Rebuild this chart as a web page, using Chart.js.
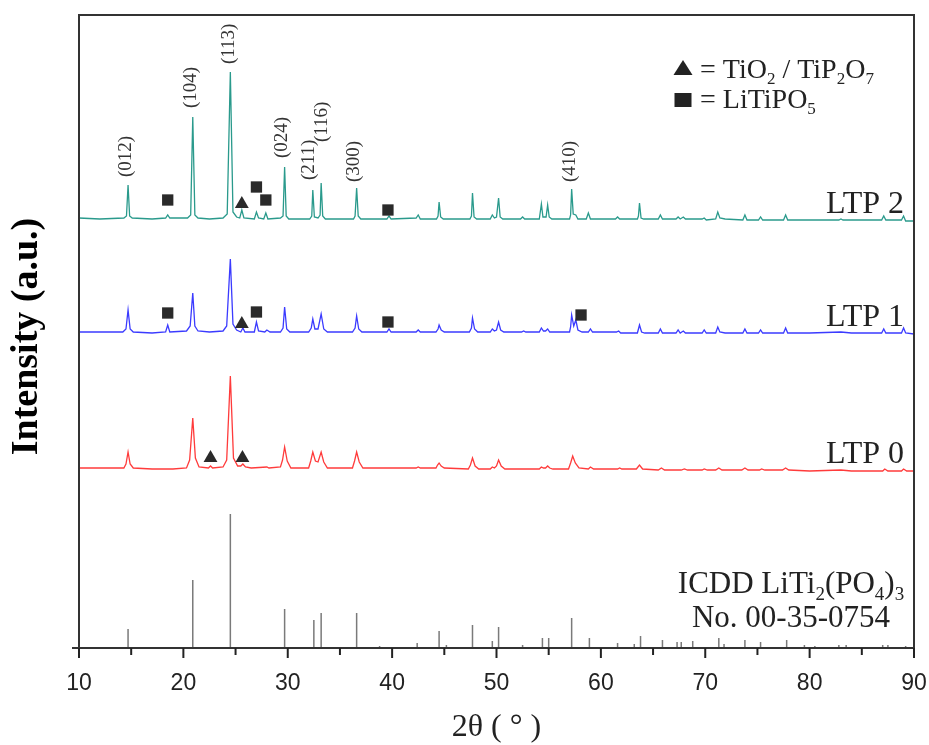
<!DOCTYPE html>
<html>
<head>
<meta charset="utf-8">
<script src="https://cdn.jsdelivr.net/npm/chart.js@4.4.1/dist/chart.umd.min.js"></script>
<style>
html,body{margin:0;padding:0;background:#fff;}
#wrap{width:929px;height:745px;position:relative;}
</style>
</head>
<body>
<div id="wrap"><canvas id="c" width="929" height="745"></canvas></div>
<script>
// ---------- DATA ----------
const xTicks = [10, 20, 30, 40, 50, 60, 70, 80, 90];

// LTP 2 trace (2θ, intensity a.u., stacked)
const ltp2 = [[10,430],[12,429],[14.3,430],[14.55,432],[14.7,463],[14.85,432],[15.1,430],[17,429],[18.3,430],[18.5,433],[18.7,430],[20.4,430],[20.7,433],[20.9,531],[21.1,433],[21.4,430],[22.5,429],[23.8,430],[24.2,434],[24.5,576],[24.75,436],[25.1,431],[25.4,430],[25.6,438],[25.8,430],[26.8,429],[27.0,436],[27.2,430],[27.7,429],[27.9,435],[28.1,429],[29.3,430],[29.55,432],[29.7,481],[29.85,432],[30.1,429],[32.1,429],[32.3,432],[32.4,458],[32.55,431],[32.9,430],[33.1,433],[33.2,465],[33.35,432],[33.6,429],[36.3,429],[36.45,432],[36.6,460],[36.75,432],[37.0,429],[39.5,429],[39.7,432],[39.9,429],[42.3,430],[42.5,433],[42.7,429],[44.25,429],[44.4,432],[44.5,446],[44.65,431],[44.9,429],[47.45,429],[47.6,432],[47.7,455],[47.85,431],[48.1,429],[49.4,429],[49.6,433],[49.8,430],[50.0,431],[50.2,450],[50.35,431],[50.6,429],[52.3,429],[52.5,431],[52.7,429],[54.1,429],[54.3,444],[54.45,431],[54.75,431],[54.9,443],[55.05,431],[55.3,429],[57.0,429],[57.1,433],[57.2,459],[57.35,434],[57.6,433],[57.8,429],[58.6,429],[58.8,435],[59.0,429],[61.4,429],[61.6,431],[61.8,429],[63.5,429],[63.6,432],[63.7,445],[63.85,430],[64.1,429],[65.5,429],[65.7,433],[65.9,429],[67.2,429],[67.4,431],[67.6,429],[67.9,431],[68.1,429],[69.7,429],[69.9,430],[70.1,428],[71.0,429],[71.2,436],[71.4,430],[71.9,429],[73.6,428],[73.8,433],[74.0,428],[75.1,428],[75.3,431],[75.5,428],[77.5,428],[77.7,433],[77.9,428],[80,428],[82.8,428],[83.0,429],[83.2,428],[86.9,428],[87.1,432],[87.3,428],[88.8,428],[89.0,432],[89.2,427],[90,427]];

// LTP 1 trace
const ltp1 = [[10,316],[12,316],[14.2,316],[14.5,319],[14.7,338],[14.9,319],[15.2,316],[17,315],[18.3,316],[18.5,323],[18.7,316],[20.3,317],[20.65,322],[20.9,355],[21.1,322],[21.4,317],[22.5,316],[23.8,317],[24.15,322],[24.5,389],[24.75,324],[25.1,318],[25.5,316],[25.7,320],[25.9,316],[26.8,316],[27.0,326],[27.2,317],[27.8,316],[28.0,318],[28.3,316],[29.3,316],[29.55,320],[29.7,341],[29.9,319],[30.2,316],[32.0,316],[32.25,320],[32.4,329],[32.6,319],[32.9,319],[33.2,334],[33.45,319],[33.8,316],[36.2,316],[36.45,320],[36.6,332],[36.8,319],[37.1,316],[39.5,316],[39.7,319],[39.9,316],[42.3,316],[42.5,318],[42.7,316],[44.2,316],[44.4,319],[44.5,323],[44.7,318],[45,316],[47.4,316],[47.6,320],[47.7,330],[47.9,319],[48.2,316],[49.4,316],[49.6,319],[49.8,317],[50.0,318],[50.2,326],[50.4,318],[50.7,316],[52.4,316],[52.6,317],[52.8,316],[54.1,316],[54.3,320],[54.5,317],[54.7,317],[54.9,319],[55.1,316],[57.0,316],[57.1,321],[57.2,333],[57.4,322],[57.6,328],[57.8,318],[58.2,316],[58.8,316],[59.0,319],[59.2,316],[61.5,316],[61.7,317],[61.9,315],[63.5,315],[63.7,323],[63.9,316],[64.2,315],[65.5,315],[65.7,319],[65.9,315],[67.2,315],[67.4,318],[67.6,315],[67.9,317],[68.1,315],[69.7,315],[69.9,318],[70.1,315],[71.0,315],[71.2,321],[71.4,316],[71.9,315],[73.6,315],[73.8,319],[74.0,315],[75.1,315],[75.3,318],[75.5,315],[77.5,315],[77.7,320],[77.9,315],[80,315],[83.0,316],[84,315],[86.9,315],[87.1,319],[87.3,315],[88.8,315],[89.0,320],[89.2,315],[90,314]];

// LTP 0 trace
const ltp0 = [[10,180],[12,180],[14.3,180],[14.5,184],[14.7,196],[14.9,184],[15.2,180],[17,179],[19,179],[20.3,180],[20.6,188],[20.9,230],[21.15,190],[21.5,181],[22.4,180],[22.6,182],[22.8,180],[23.8,181],[24.15,188],[24.5,272],[24.8,190],[25.2,182],[25.5,182],[25.7,184],[25.95,181],[26.5,180],[28.0,181],[28.2,180],[29.3,181],[29.5,188],[29.7,201],[29.95,187],[30.3,180],[32.0,180],[32.2,187],[32.4,196],[32.65,187],[32.9,186],[33.2,196],[33.45,186],[33.8,180],[36.2,180],[36.4,187],[36.6,196],[36.85,186],[37.2,180],[42.3,180],[42.5,181],[42.7,180],[44.2,180],[44.35,183],[44.5,185],[44.7,182],[45,180],[47.3,179],[47.5,183],[47.7,190],[47.95,182],[48.3,179],[49.4,179],[49.6,181],[49.8,180],[50.0,182],[50.2,188],[50.45,182],[50.8,179],[52.5,179],[54.1,179],[54.3,181],[54.5,180],[54.7,180],[54.9,182],[55.1,180],[55.4,179],[56.9,179],[57.1,185],[57.3,192],[57.55,185],[57.9,180],[58.8,179],[59.0,181],[59.3,179],[61.6,179],[61.8,180],[62,179],[63.4,179],[63.7,183],[64.0,179],[65.5,178],[65.8,180],[66.1,178],[67.7,178],[68.0,179],[68.3,178],[69.7,178],[69.9,179],[70.2,178],[71.0,178],[71.3,180],[71.6,178],[73.5,178],[73.8,180],[74.1,178],[75.2,178],[75.4,179],[75.7,178],[77.4,178],[77.7,180],[78.0,178],[80,177],[83,178],[84,177],[87.0,177],[87.2,179],[87.5,177],[88.8,177],[89.0,179],[89.3,177],[90,177]];

// ICDD 00-35-0754 stick pattern
const stickX = [14.7,20.9,24.5,29.7,32.5,33.2,36.6,38.8,42.4,44.5,45.2,47.7,49.6,50.2,52.5,54.4,55.0,57.2,58.9,61.6,63.2,63.8,65.9,67.3,67.7,68.8,71.3,71.8,73.8,75.3,77.8,79.5,80.5,82.8,83.5,87.0,87.5,89.2];
const stickH = [19,68,134,39,28,35,35,2,5,17,3,23,7,21,3,10,10,30,10,5,4,12,8,6,6,7,10,4,8,6,8,3,2,3,3,3,3,2];

// impurity markers
const squareX = [18.5, 27.0, 27.9, 39.6, 18.5, 27.0, 39.6, 58.1];
const squareY = [448, 461, 448, 438, 335, 336, 326, 333];
const triangleX = [25.6, 25.6, 22.6, 25.66];
const triangleY = [444, 324, 190, 190];

// (hkl) reflection labels
const hklLabels = ['(012)','(104)','(113)','(024)','(211)','(116)','(300)','(410)'];
const hklLabelX = [14.55, 20.7, 24.4, 29.45, 32.0, 33.3, 36.35, 57.0];
const hklLabelY = [471, 540, 584, 490, 468, 506, 466, 466];

const seriesNames = ['LTP 2', 'LTP 1', 'LTP 0'];

// ---------- CHART ----------
const toXY = arr => arr.map(p => ({x: p[0], y: p[1]}));
const stickData = [];
stickX.forEach((x, i) => { stickData.push({x, y: 0}, {x, y: stickH[i]}, {x, y: null}); });
const squares = squareX.map((x, i) => ({x, y: squareY[i]}));
const triangles = triangleX.map((x, i) => ({x, y: triangleY[i]}));

const SERIF = "'Liberation Serif','DejaVu Serif',serif";
const SANS = "'Liberation Sans','DejaVu Sans',sans-serif";

function drawRich(ctx, segs, x, y, align, size, subSize) {
  let w = 0;
  segs.forEach(s => { ctx.font = (s.sub ? subSize : size) + 'px ' + SERIF; s.w = ctx.measureText(s.t).width; w += s.w; });
  let cx = align === 'right' ? x - w : (align === 'center' ? x - w / 2 : x);
  ctx.textAlign = 'left';
  ctx.textBaseline = 'alphabetic';
  segs.forEach(s => {
    ctx.font = (s.sub ? subSize : size) + 'px ' + SERIF;
    ctx.fillText(s.t, cx, s.sub ? y + size * 0.22 : y);
    cx += s.w;
  });
}

const overlay = {
  id: 'overlay',
  afterDraw(chart) {
    const {ctx, chartArea: a, scales: {x, y}} = chart;
    ctx.save();
    // frame
    ctx.strokeStyle = '#333';
    ctx.lineWidth = 2;
    ctx.strokeRect(a.left, a.top, a.right - a.left, a.bottom - a.top);
    // bottom axis stub to the left
    ctx.beginPath(); ctx.moveTo(a.left - 7, a.bottom); ctx.lineTo(a.left, a.bottom); ctx.stroke();
    // ticks
    ctx.strokeStyle = '#222';
    x.ticks.forEach(t => {
      const px = x.getPixelForValue(t.value);
      const major = t.value % 10 === 0;
      ctx.beginPath();
      ctx.moveTo(px, a.bottom);
      ctx.lineTo(px, a.bottom + (major ? 10 : 7));
      ctx.stroke();
    });
    // hkl labels (rotated)
    ctx.fillStyle = '#333';
    ctx.font = '19px ' + SERIF;
    hklLabels.forEach((lab, i) => {
      ctx.save();
      ctx.translate(x.getPixelForValue(hklLabelX[i]), y.getPixelForValue(hklLabelY[i]));
      ctx.rotate(-Math.PI / 2);
      ctx.textAlign = 'left';
      ctx.textBaseline = 'middle';
      ctx.fillText(lab, 0, 0);
      ctx.restore();
    });
    // series labels
    ctx.fillStyle = '#222';
    ctx.font = '32px ' + SERIF;
    ctx.textAlign = 'right';
    ctx.textBaseline = 'alphabetic';
    [ltp2, ltp1, ltp0].forEach((arr, i) => {
      const last = arr[arr.length - 1];
      ctx.fillText(seriesNames[i], a.right - 10, y.getPixelForValue(last[1]) - 8);
    });
    // reference label
    const cx = a.right - 123;
    drawRich(ctx, [{t:'ICDD LiTi'},{t:'2',sub:true},{t:'(PO'},{t:'4',sub:true},{t:')'},{t:'3',sub:true}], cx, a.bottom - 55, 'center', 31, 19);
    drawRich(ctx, [{t:'No. 00-35-0754'}], cx, a.bottom - 21, 'center', 31, 19);
    // legend
    const lx = a.left + 604;
    ctx.fillStyle = '#222';
    ctx.beginPath();
    ctx.moveTo(lx, a.top + 45); ctx.lineTo(lx + 9.5, a.top + 60); ctx.lineTo(lx - 9.5, a.top + 60); ctx.closePath(); ctx.fill();
    ctx.fillRect(lx - 8.5, a.top + 78, 17, 14);
    ctx.fillStyle = '#222';
    drawRich(ctx, [{t:'= TiO'},{t:'2',sub:true},{t:' / TiP'},{t:'2',sub:true},{t:'O'},{t:'7',sub:true}], lx + 17, a.top + 63, 'left', 28, 17);
    drawRich(ctx, [{t:'= LiTiPO'},{t:'5',sub:true}], lx + 17, a.top + 93, 'left', 28, 17);
    // y title
    ctx.save();
    ctx.translate(37, (a.top + a.bottom) / 2 + 5);
    ctx.rotate(-Math.PI / 2);
    ctx.font = 'bold 38px ' + SERIF;
    ctx.fillStyle = '#000';
    ctx.textAlign = 'center';
    ctx.textBaseline = 'alphabetic';
    ctx.fillText('Intensity (a.u.)', 0, 0);
    ctx.restore();
    ctx.restore();
  }
};

new Chart(document.getElementById('c'), {
  type: 'line',
  data: {
    datasets: [
      {label: 'ICDD', data: stickData, borderColor: '#7a7a7a', borderWidth: 1.5, pointRadius: 0, spanGaps: false, order: 5},
      {label: seriesNames[2], data: toXY(ltp0), borderColor: '#ff3b3b', borderWidth: 1.3, pointRadius: 0, tension: 0, order: 4},
      {label: seriesNames[1], data: toXY(ltp1), borderColor: '#3b3bff', borderWidth: 1.3, pointRadius: 0, tension: 0, order: 3},
      {label: seriesNames[0], data: toXY(ltp2), borderColor: '#2a9a8c', borderWidth: 1.3, pointRadius: 0, tension: 0, order: 2},
      {label: 'LiTiPO5', data: squares, showLine: false, pointStyle: 'rect', pointRadius: 8, pointBackgroundColor: '#2a2a2a', pointBorderWidth: 0, order: 1},
      {label: 'TiO2/TiP2O7', data: triangles, showLine: false, pointStyle: 'triangle', pointRadius: 8, pointBackgroundColor: '#2a2a2a', pointBorderWidth: 0, order: 1}
    ]
  },
  options: {
    responsive: false,
    animation: false,
    layout: {padding: {left: 79, right: 15, top: 15, bottom: 0}},
    plugins: {legend: {display: false}, tooltip: {enabled: false}},
    scales: {
      x: {
        type: 'linear', min: 10, max: 90, offset: false,
        afterFit: s => { s.height = 97; s.paddingRight = 0; s.paddingLeft = 0; },
        ticks: {stepSize: 5, padding: 12, color: '#222', font: {family: SANS, size: 23},
                callback: v => (v % 10 === 0 ? String(v) : '')},
        grid: {display: true, drawOnChartArea: false, drawTicks: true, tickLength: 10, tickColor: 'rgba(0,0,0,0)'},
        border: {display: true, color: '#333', width: 2},
        title: {display: true, text: '2θ ( ° )', color: '#222', font: {family: SERIF, size: 32, lineHeight: 1}, padding: {top: 16, bottom: 1}}
      },
      y: {
        display: false, min: 0, max: 633
      }
    }
  },
  plugins: [overlay]
});
</script>
</body>
</html>
